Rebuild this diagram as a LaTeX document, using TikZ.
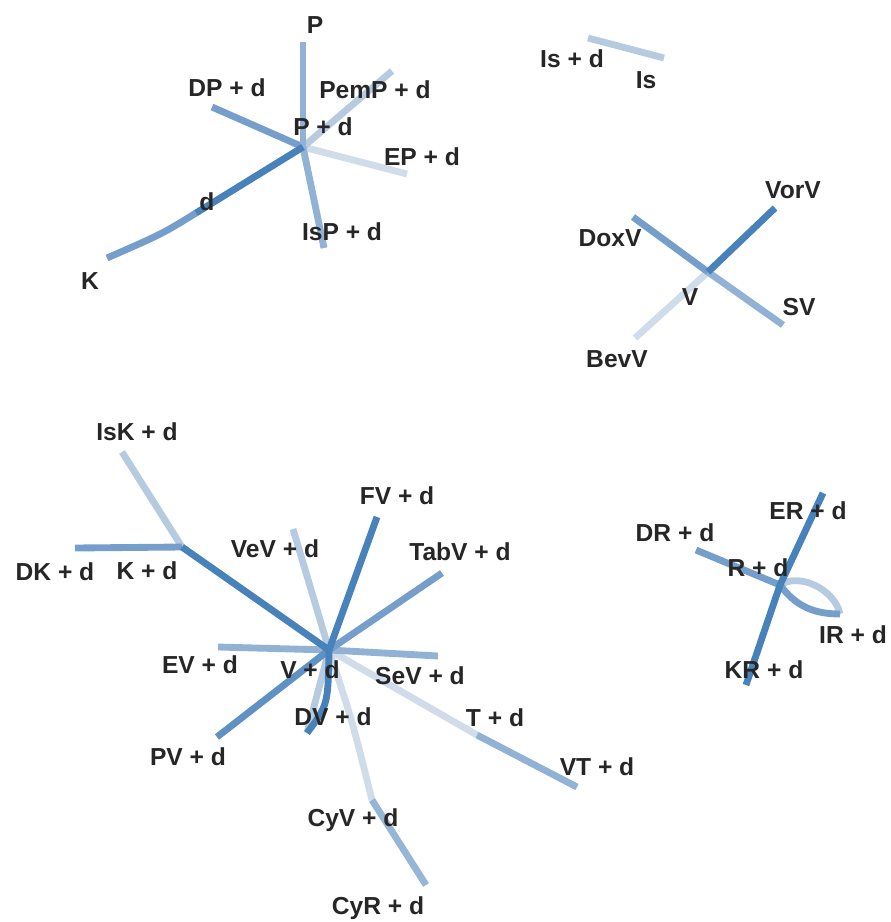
\documentclass[tikz,border=0pt]{standalone}
\usepackage{fontspec}
\setsansfont{Liberation Sans}
\usepackage{tikz}
\usetikzlibrary{positioning, calc}
\usepackage{xcolor}

\definecolor{eDark}{RGB}{72,130,186}
\definecolor{eMidDark}{RGB}{95,145,195}
\definecolor{eMid}{RGB}{118,158,202}
\definecolor{eMidLight}{RGB}{145,178,212}
\definecolor{eLight}{RGB}{182,202,224}
\definecolor{eFaint}{RGB}{208,220,234}

\begin{document}
\begin{tikzpicture}[
    x=0.02cm, y=-0.02cm,
    lbl/.style={font=\sffamily\bfseries\fontsize{14}{16}\selectfont, text=black!85, inner sep=0pt},
    edge/.style={line width=3.9pt}
]
    \useasboundingbox (0,0) rectangle (890,922);

    % P + d cluster
    \coordinate (Pd) at (303,147);
    \coordinate (P) at (303,42);
    \coordinate (DP) at (212,107);
    \coordinate (PemP) at (392,71);
    \coordinate (EP) at (407,174);
    \coordinate (IsP) at (324,248);
    \coordinate (d) at (196,213);
    \coordinate (K) at (107,258);
    \draw[edge, eFaint] (Pd) -- (EP);
    \draw[edge, eLight] (Pd) -- (PemP);
    \draw[edge, eMid] (Pd) -- (DP);
    \draw[edge, eMidLight] (Pd) -- (IsP);
    \draw[edge, eMidLight] (Pd) -- (P);
    \draw[edge, eMid] (d) .. controls (162,234) .. (K);
    \draw[edge, eDark] (Pd) -- (d);
    \node[lbl] (P-l) at (315,25) {P};
    \node[lbl] (DP-l) at (227,88) {DP + d};
    \node[lbl] (PemP-l) at (375,90) {PemP + d};
    \node[lbl] (Pd-l) at (323,127) {P + d};
    \node[lbl] (EP-l) at (422,157) {EP + d};
    \node[lbl] (IsP-l) at (342,232) {IsP + d};
    \node[lbl] (d-l) at (207,202) {d};
    \node[lbl] (K-l) at (90,281) {K};

    % Is
    \coordinate (Isd) at (588,38);
    \coordinate (Is) at (664,58);
    \draw[edge, eLight] (Isd) -- (Is);
    \node[lbl] (Isd-l) at (572,59) {Is + d};
    \node[lbl] (Is-l) at (646,80) {Is};

    % V cluster
    \coordinate (V) at (708,272);
    \coordinate (VorV) at (775,208);
    \coordinate (DoxV) at (633,217);
    \coordinate (SV) at (783,325);
    \coordinate (BevV) at (635,338);
    \draw[edge, eFaint] (V) -- (BevV);
    \draw[edge, eMidLight] (V) -- (SV);
    \draw[edge, eMid] (V) -- (DoxV);
    \draw[edge, eDark] (V) -- (VorV);
    \node[lbl] (VorV-l) at (793,190) {VorV};
    \node[lbl] (DoxV-l) at (610,238) {DoxV};
    \node[lbl] (V-l) at (690,297) {V};
    \node[lbl] (SV-l) at (799,307) {SV};
    \node[lbl] (BevV-l) at (617,359) {BevV};

    % V + d cluster
    \coordinate (Vd) at (329,650);
    \coordinate (Kd) at (182,547);
    \coordinate (IsK) at (122,452);
    \coordinate (DK) at (75,548);
    \coordinate (VeV) at (293,529);
    \coordinate (FV) at (377,517);
    \coordinate (TabV) at (442,573);
    \coordinate (EV) at (218,647);
    \coordinate (SeV) at (438,656);
    \coordinate (PV) at (217,737);
    \coordinate (DV) at (307,733);
    \coordinate (CyV) at (372,800);
    \coordinate (CyR) at (426,885);
    \coordinate (T) at (477,735);
    \coordinate (VT) at (577,787);
    \draw[edge, eFaint] (Vd) -- (T);
    \draw[edge, eFaint] (Vd) .. controls (352,720) .. (CyV);
    \draw[edge, eLight] (Vd) -- (DV);
    \draw[edge, eLight] (Kd) -- (IsK);
    \draw[edge, eLight] (Vd) -- (VeV);
    \draw[edge, eMidLight] (Vd) -- (EV);
    \draw[edge, eMidLight] (Vd) -- (SeV);
    \draw[edge, eMid] (Kd) -- (DK);
    \draw[edge, eMid] (Vd) -- (TabV);
    \draw[edge, eMidLight!85!eLight] (CyV) -- (CyR);
    \draw[edge, eMidLight] (T) -- (VT);
    \draw[edge, eMidDark] (Vd) -- (PV);
    \draw[edge, eDark] (Vd) .. controls (328,705) .. (DV);
    \draw[edge, eDark] (Kd) -- (Vd);
    \draw[edge, eDark] (Vd) -- (FV);
    \node[lbl] (IsK-l) at (137,432) {IsK + d};
    \node[lbl] (DK-l) at (55,572) {DK + d};
    \node[lbl] (Kd-l) at (147,571) {K + d};
    \node[lbl] (VeV-l) at (275,549) {VeV + d};
    \node[lbl] (FV-l) at (397,496) {FV + d};
    \node[lbl] (TabV-l) at (460,552) {TabV + d};
    \node[lbl] (EV-l) at (200,665) {EV + d};
    \node[lbl] (Vd-l) at (310,670) {V + d};
    \node[lbl] (SeV-l) at (420,676) {SeV + d};
    \node[lbl] (DV-l) at (333,717) {DV + d};
    \node[lbl] (T-l) at (495,718) {T + d};
    \node[lbl] (PV-l) at (188,757) {PV + d};
    \node[lbl] (VT-l) at (597,767) {VT + d};
    \node[lbl] (CyV-l) at (353,820) {CyV + d};
    \node[lbl] (CyR-l) at (378,908) {CyR + d};

    % R + d cluster
    \coordinate (Rd) at (780,585);
    \coordinate (ER) at (823,493);
    \coordinate (DR) at (696,550);
    \coordinate (KR) at (746,685);
    \coordinate (IR) at (840,614);
    \draw[edge, eLight] (Rd) .. controls (800,572) and (835,590) .. (IR);
    \draw[edge, eMid] (Rd) .. controls (795,605) and (812,614) .. (IR);
    \draw[edge, eMid] (Rd) -- (DR);
    \draw[edge, eDark] (Rd) -- (ER);
    \draw[edge, eDark] (Rd) -- (KR);
    \node[lbl] (ER-l) at (808,511) {ER + d};
    \node[lbl] (DR-l) at (675,533) {DR + d};
    \node[lbl] (Rd-l) at (758,568) {R + d};
    \node[lbl] (IR-l) at (853,635) {IR + d};
    \node[lbl] (KR-l) at (764,670) {KR + d};
\end{tikzpicture}
\end{document}
